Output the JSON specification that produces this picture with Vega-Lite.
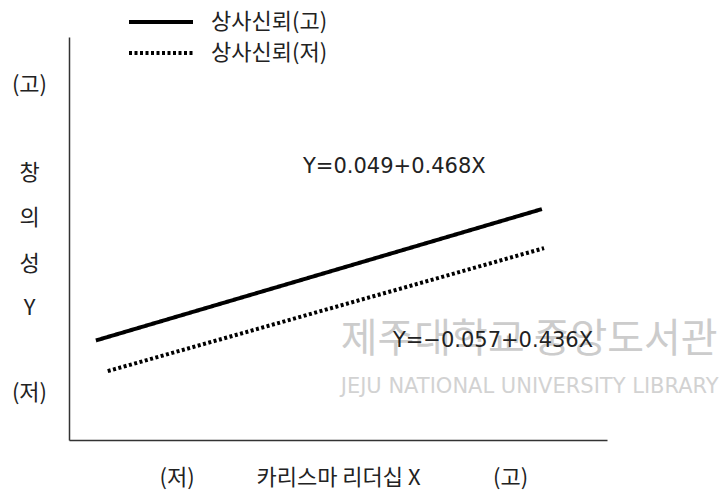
{
  "$schema": "https://vega.github.io/schema/vega-lite/v6.json",
  "width": 538,
  "height": 403,
  "padding": {"left": 69, "top": 37, "right": 115, "bottom": 51},
  "autosize": {"type": "none"},
  "config": {
    "view": {"stroke": null},
    "font": "Noto Sans CJK KR",
    "text": {"font": "Noto Sans CJK KR"}
  },
  "datasets": {
    "lines": [
      {"group": "상사신뢰(고)", "x": 5.0, "y": 24.7},
      {"group": "상사신뢰(고)", "x": 87.9, "y": 57.3},
      {"group": "상사신뢰(저)", "x": 7.2, "y": 17.1},
      {"group": "상사신뢰(저)", "x": 88.3, "y": 47.6}
    ],
    "notes": [
      {"label": "Y=0.049+0.468X", "x": 43.5, "y": 67.7},
      {"label": "Y=−0.057+0.436X", "x": 60.2, "y": 24.6}
    ],
    "watermark": [
      {"label": "제주대학교 중앙도서관", "x": 50.5, "y": 24.8, "kind": "big"},
      {"label": "JEJU NATIONAL UNIVERSITY LIBRARY", "x": 50.5, "y": 13.2, "kind": "small"}
    ]
  },
  "layer": [
    {
      "data": {"name": "watermark"},
      "transform": [{"filter": "datum.kind == 'big'"}],
      "mark": {"type": "text", "align": "left", "baseline": "middle", "fontSize": 40, "color": "#cccccc"},
      "encoding": {
        "x": {"field": "x", "type": "quantitative", "scale": {"domain": [0, 100], "nice": false}},
        "y": {"field": "y", "type": "quantitative", "scale": {"domain": [0, 100], "nice": false}},
        "text": {"field": "label"}
      }
    },
    {
      "data": {"name": "watermark"},
      "transform": [{"filter": "datum.kind == 'small'"}],
      "mark": {"type": "text", "align": "left", "baseline": "middle", "fontSize": 21, "font": "DejaVu Sans", "color": "#d2d2d2"},
      "encoding": {
        "x": {"field": "x", "type": "quantitative"},
        "y": {"field": "y", "type": "quantitative"},
        "text": {"field": "label"}
      }
    },
    {
      "data": {"name": "lines"},
      "mark": {"type": "line", "color": "black", "strokeWidth": 4},
      "encoding": {
        "x": {
          "field": "x", "type": "quantitative",
          "scale": {"domain": [0, 100], "nice": false},
          "axis": {
            "values": [20, 50, 82],
            "labelExpr": "datum.value < 30 ? '(저)' : datum.value < 60 ? '카리스마 리더십 X' : '(고)'",
            "ticks": false, "tickSize": 0, "grid": false,
            "domainColor": "#333333", "domainWidth": 1.5,
            "labelPadding": 37, "labelBaseline": "middle", "labelAlign": "center",
            "labelFontSize": 22, "labelColor": "#222222", "labelFlush": false, "labelOverlap": false,
            "title": null
          }
        },
        "y": {
          "field": "y", "type": "quantitative",
          "scale": {"domain": [0, 100], "nice": false},
          "axis": {
            "values": [88.1, 66.5, 55.1, 43.9, 32.8, 11.7],
            "labelExpr": "datum.value > 80 ? '(고)' : datum.value > 60 ? '창' : datum.value > 50 ? '의' : datum.value > 40 ? '성' : datum.value > 20 ? 'Y' : '(저)'",
            "ticks": false, "tickSize": 0, "grid": false,
            "domainColor": "#333333", "domainWidth": 1.5,
            "labelPadding": 40, "labelBaseline": "middle", "labelAlign": "center",
            "labelFontSize": 22, "labelColor": "#222222", "labelFlush": false, "labelOverlap": false,
            "title": null
          }
        },
        "strokeDash": {
          "field": "group", "type": "nominal",
          "scale": {"domain": ["상사신뢰(고)", "상사신뢰(저)"], "range": [[1, 0], [3, 2.5]]},
          "legend": {
            "orient": "none", "legendX": 79, "legendY": -28, "title": null,
            "symbolType": "M-3,0H3", "symbolSize": 455, "symbolStrokeWidth": 4,
            "symbolStrokeColor": "black", "labelFontSize": 22, "labelColor": "#222222",
            "padding": 0, "rowPadding": 7, "labelOffset": 37
          }
        }
      }
    },
    {
      "data": {"name": "notes"},
      "mark": {"type": "text", "align": "left", "baseline": "middle", "fontSize": 21, "font": "DejaVu Sans", "color": "#222222"},
      "encoding": {
        "x": {"field": "x", "type": "quantitative"},
        "y": {"field": "y", "type": "quantitative"},
        "text": {"field": "label"}
      }
    }
  ]
}
